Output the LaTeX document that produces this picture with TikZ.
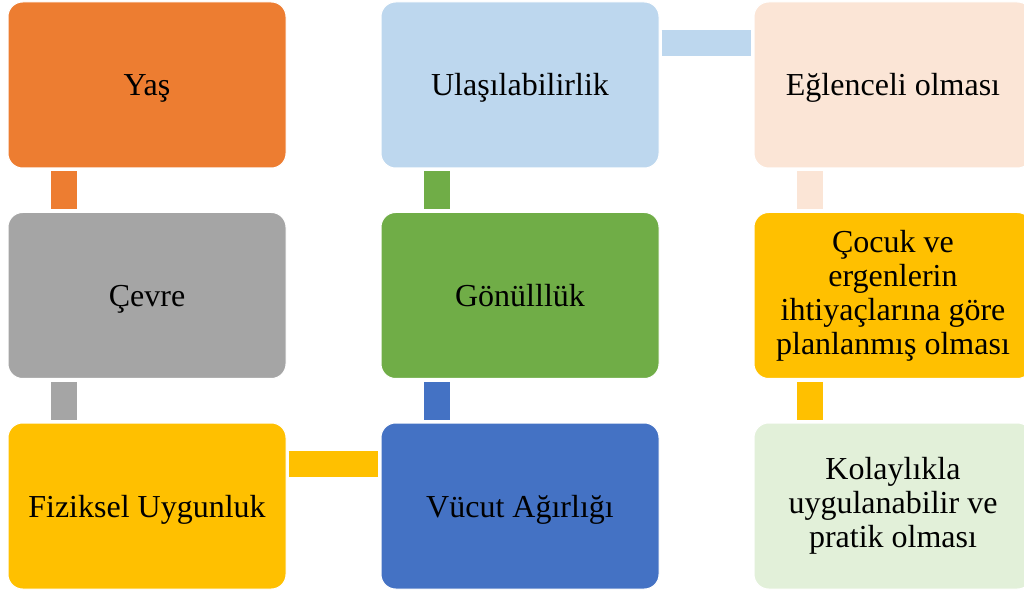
\documentclass[tikz,border=0pt]{standalone}
\usepackage{fontspec}
\setmainfont{Liberation Serif}
\usepackage{tikz}
\usetikzlibrary{calc}
\definecolor{OrangeBox}{HTML}{ED7D31}
\definecolor{GrayBox}{HTML}{A5A5A5}
\definecolor{GoldBox}{HTML}{FFC000}
\definecolor{BlueBox}{HTML}{4472C4}
\definecolor{GreenBox}{HTML}{70AD47}
\definecolor{SkyBox}{HTML}{BDD7EE}
\definecolor{PeachBox}{HTML}{FBE5D6}
\definecolor{MintBox}{HTML}{E2F0D9}
\tikzset{
  box/.style={rounded corners=11pt,draw=white,line width=0.75pt,minimum width=208.5pt,minimum height=124.5pt,
    inner sep=0pt,align=center,text=black,font=\fontsize{24}{25.5}\selectfont},
  oneline/.style={text height=16.5pt,text depth=0pt},
  manyline/.style={execute at begin node={\rule{0pt}{21pt}}},
  vbar/.style={line width=19.5pt,shorten <=2.25pt,shorten >=2.25pt},
  hbar/.style={line width=19.5pt,shorten <=1.5pt,shorten >=2.25pt}
}

\begin{document}
\begin{tikzpicture}[x=0.75pt,y=-0.75pt]
      \useasboundingbox (0,0) rectangle (1024,591);
      \clip (0,0) rectangle (1024,591);
      % first column, top to bottom
      \node[box,oneline,fill=OrangeBox] (yas) at (147,85) {Yaş};
      \node[box,oneline,fill=GrayBox] (cevre) at (147,295.5) {Çevre};
      \node[box,oneline,fill=GoldBox] (fiziksel) at (147,506) {Fiziksel Uygunluk};
      % second column, bottom to top
      \node[box,oneline,fill=BlueBox] (vucut) at (520,506) {Vücut Ağırlığı};
      \node[box,oneline,fill=GreenBox] (gonullu) at (520,295.5) {Gönülllük};
      \node[box,oneline,fill=SkyBox] (ulasim) at (520,85) {Ulaşılabilirlik};
      % third column, top to bottom
      \node[box,oneline,fill=PeachBox] (eglence) at (893,85) {Eğlenceli olması};
      \node[box,manyline,fill=GoldBox] (ihtiyac) at (893,295.5) {Çocuk ve\\ergenlerin\\ihtiyaçlarına göre\\planlanmış olması};
      \node[box,manyline,fill=MintBox] (kolay) at (893,506) {Kolaylıkla\\uygulanabilir ve\\pratik olması};
      % connectors
      \draw[vbar,OrangeBox] ([xshift=42pt]yas.south west) -- ([xshift=42pt]cevre.north west);
      \draw[vbar,GrayBox] ([xshift=42pt]cevre.south west) -- ([xshift=42pt]fiziksel.north west);
      \draw[hbar,GoldBox] ([yshift=-31pt]fiziksel.north east) -- ([yshift=-31pt]vucut.north west);
      \draw[vbar,BlueBox] ([xshift=42pt]vucut.north west) -- ([xshift=42pt]gonullu.south west);
      \draw[vbar,GreenBox] ([xshift=42pt]gonullu.north west) -- ([xshift=42pt]ulasim.south west);
      \draw[hbar,SkyBox] ([yshift=-31pt]ulasim.north east) -- ([yshift=-31pt]eglence.north west);
      \draw[vbar,PeachBox] ([xshift=42pt]eglence.south west) -- ([xshift=42pt]ihtiyac.north west);
      \draw[vbar,GoldBox] ([xshift=42pt]ihtiyac.south west) -- ([xshift=42pt]kolay.north west);
\end{tikzpicture}
\end{document}
